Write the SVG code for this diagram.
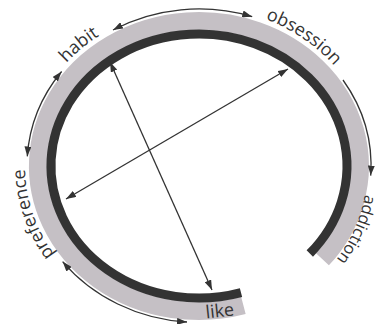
<svg xmlns="http://www.w3.org/2000/svg" width="382" height="324" viewBox="0 0 382 324">
<style>
.band{fill:none;stroke:#c5c0c5;stroke-width:18}
.dark{fill:none;stroke:#333333;stroke-width:9}
.conn{fill:none;stroke:#333333;stroke-width:1.3}
.lbl{font-family:"Open Sans","Liberation Sans",sans-serif;font-size:18px;fill:#333333}
</style>
<defs>
<marker id="ah" viewBox="0 0 10 7" refX="10" refY="3.5" markerWidth="10" markerHeight="7" markerUnits="userSpaceOnUse" orient="auto-start-reverse">
<path d="M0,0 L10,3.5 L0,7 z" fill="#333333"/>
</marker>
<path id="labelPath" d="M199,325 A174,159 0 0,1 199,7 A174,159 0 0,1 199,325"/>
<path id="labelPath2" d="M193,328 A174,158 0 0,1 193,12 A174,158 0 0,1 193,328"/>
</defs>
<g id="ring">
<path class="band" d="M243.4,305.4 A161,145 0 1,1 322.3,259.2"/>
<path class="dark" d="M241,292.6 A148,132 0 1,1 309.8,253.5"/>
</g>
<g id="connectors">
<path class="conn" d="M113,30 A172,157 0 0,1 252.2,16.7" marker-start="url(#ah)" marker-end="url(#ah)"/>
<path class="conn" d="M27.3,156.4 A172,157 0 0,1 61.6,71.5" marker-start="url(#ah)" marker-end="url(#ah)"/>
<path class="conn" d="M187,322 A172,157 0 0,1 62.6,261.6" marker-start="url(#ah)" marker-end="url(#ah)"/>
<path class="conn" d="M343,80 A172,157 0 0,1 370.7,175.6" marker-end="url(#ah)"/>
<line class="conn" x1="110" y1="62" x2="212" y2="290" marker-start="url(#ah)" marker-end="url(#ah)"/>
<line class="conn" x1="66" y1="199" x2="288" y2="69" marker-start="url(#ah)" marker-end="url(#ah)"/>
</g>
<g id="node-habit"><text class="lbl"><textPath href="#labelPath" startOffset="37.9%" text-anchor="middle">habit</textPath></text></g>
<g id="node-obsession"><text class="lbl"><textPath href="#labelPath" startOffset="60.5%" text-anchor="middle">obsession</textPath></text></g>
<g id="node-addiction"><text class="lbl" style="font-size:16.5px"><textPath href="#labelPath2" startOffset="80.8%" text-anchor="middle">addiction</textPath></text></g>
<g id="node-preference"><text class="lbl"><textPath href="#labelPath" startOffset="20.3%" text-anchor="middle">preference</textPath></text></g>
<g id="node-like"><text class="lbl" x="220" y="317" text-anchor="middle" transform="rotate(-6 220 313)">like</text></g>
</svg>
